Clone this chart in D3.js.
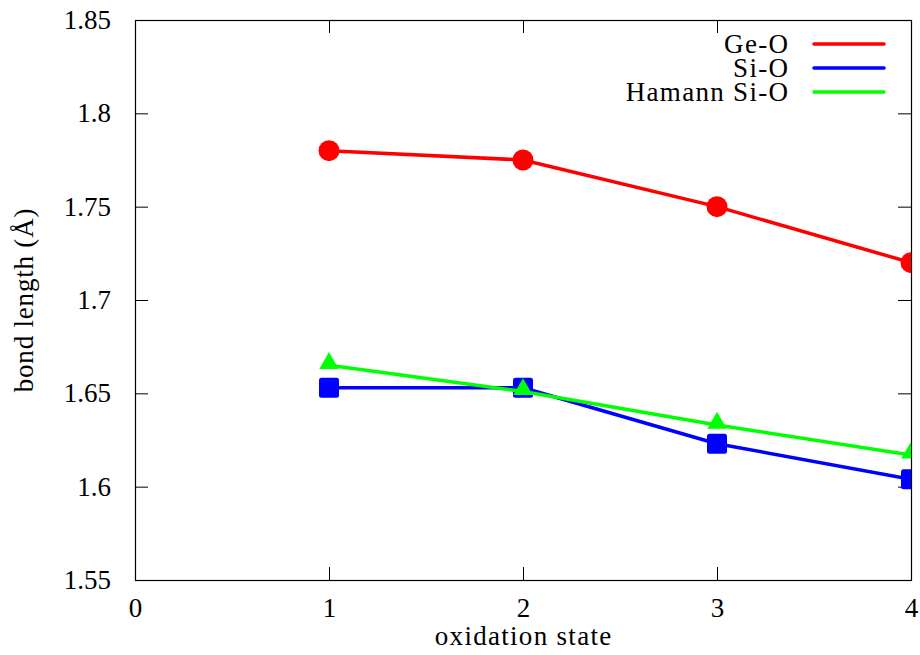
<!DOCTYPE html>
<html>
<head>
<meta charset="utf-8">
<script src="https://cdn.jsdelivr.net/npm/d3@7"></script>
<style>
  html, body { margin: 0; padding: 0; background: #fff; }
  text { font-family: "Liberation Serif", "DejaVu Serif", serif; fill: #000; }
</style>
</head>
<body>
<svg id="chart" width="920" height="655"></svg>
<script>
// Oxidation states and bond lengths (Å)
const oxidationStates = [1, 2, 3, 4];
const geO = [1.78, 1.775, 1.75, 1.72];
const siO = [1.653, 1.653, 1.623, 1.604];
const hamannSiO = [1.665, 1.651, 1.633, 1.617];
const xTicks = [0, 1, 2, 3, 4];
const yTicks = [1.55, 1.6, 1.65, 1.7, 1.75, 1.8, 1.85];

const seriesList = [
  { name: "Ge-O", values: geO, color: "#ff0000", marker: "circle" },
  { name: "Si-O", values: siO, color: "#0000ff", marker: "square" },
  { name: "Hamann Si-O", values: hamannSiO, color: "#00ff00", marker: "triangle" }
];

const margin = { left: 135, right: 9, top: 20, bottom: 75 };
const W = 920, H = 655;
const svg = d3.select("#chart");

const x = d3.scaleLinear().domain([0, 4]).range([margin.left, W - margin.right]);
const y = d3.scaleLinear().domain([1.55, 1.85]).range([H - margin.bottom, margin.top]);

const tickLen = 13;
const fontSize = 27;
const wordSpacing = 1.3;

// Clip markers to the plot frame
svg.append("defs").append("clipPath").attr("id", "plotClip")
  .append("rect")
  .attr("x", x(0)).attr("y", y(1.85))
  .attr("width", x(4) - x(0)).attr("height", y(1.55) - y(1.85));

// Axes with inward ticks, mirrored on top and right
const axisBottom = d3.axisBottom(x).tickValues(xTicks).tickFormat(d3.format("d"))
  .tickSizeInner(-tickLen).tickSizeOuter(0).tickPadding(18);
const axisLeft = d3.axisLeft(y).tickValues(yTicks).tickFormat(d => String(+d.toFixed(2)))
  .tickSizeInner(-tickLen).tickSizeOuter(0).tickPadding(24);
const axisTop = d3.axisTop(x).tickValues(xTicks).tickFormat("").tickSizeInner(-tickLen).tickSizeOuter(0);
const axisRight = d3.axisRight(y).tickValues(yTicks).tickFormat("").tickSizeInner(-tickLen).tickSizeOuter(0);

function styleAxis(g) {
  g.select(".domain").remove();
  g.selectAll(".tick line").attr("stroke", "#000").attr("stroke-width", 1);
  g.selectAll(".tick text").attr("font-size", fontSize)
    .attr("font-family", "Liberation Serif, DejaVu Serif, serif").attr("fill", "#000");
}

svg.append("g").attr("transform", `translate(0,${y(1.55)})`).call(axisBottom).call(styleAxis);
svg.append("g").attr("transform", `translate(${x(0)},0)`).call(axisLeft).call(styleAxis);
svg.append("g").attr("transform", `translate(0,${y(1.85)})`).call(axisTop).call(styleAxis);
svg.append("g").attr("transform", `translate(${x(4)},0)`).call(axisRight).call(styleAxis);

// Plot frame
svg.append("rect")
  .attr("x", x(0) + 0.5).attr("y", y(1.85) + 0.5)
  .attr("width", x(4) - x(0)).attr("height", y(1.55) - y(1.85))
  .attr("fill", "none").attr("stroke", "#000").attr("stroke-width", 1.2);

// Axis titles
svg.append("text")
  .attr("x", (x(0) + x(4)) / 2 + wordSpacing / 2).attr("y", 645)
  .attr("text-anchor", "middle").attr("font-size", fontSize)
  .attr("letter-spacing", wordSpacing)
  .text("oxidation state");
svg.append("text")
  .attr("transform", `translate(33,${(y(1.55) + y(1.85)) / 2}) rotate(-90)`)
  .attr("text-anchor", "middle").attr("font-size", fontSize)
  .attr("letter-spacing", 0.8)
  .text("bond length (Å)");

// Series lines and markers
const line = d3.line().x((d, i) => x(oxidationStates[i])).y(d => y(d));
const plot = svg.append("g").attr("clip-path", "url(#plotClip)");

const symbolFor = {
  circle: d3.symbol().type(d3.symbolCircle).size(Math.PI * 10.5 * 10.5),
  triangle: d3.symbol().type(d3.symbolTriangle).size(165)
};

seriesList.forEach(s => {
  plot.append("path")
    .datum(s.values)
    .attr("d", line)
    .attr("fill", "none")
    .attr("stroke", s.color)
    .attr("stroke-width", 3.5)
    .attr("stroke-linejoin", "round");

  const pts = plot.append("g").selectAll("g")
    .data(s.values)
    .join("g")
    .attr("transform", (d, i) => `translate(${x(oxidationStates[i])},${y(d)})`);

  if (s.marker === "square") {
    pts.append("rect")
      .attr("x", -10).attr("y", -10).attr("width", 20).attr("height", 20)
      .attr("rx", 2.5).attr("fill", s.color);
  } else if (s.marker === "circle") {
    pts.append("path").attr("d", symbolFor.circle()).attr("fill", s.color);
  } else {
    pts.append("path").attr("d", symbolFor.triangle()).attr("fill", s.color)
      .attr("transform", "translate(0,-2)");
  }
});

// Legend
const legend = svg.append("g");
const legendTop = 44, legendStep = 24;
seriesList.forEach((s, i) => {
  const ly = legendTop + i * legendStep;
  legend.append("text")
    .attr("x", 788 + wordSpacing).attr("y", ly).attr("dy", "0.33em")
    .attr("text-anchor", "end").attr("font-size", fontSize)
    .attr("letter-spacing", wordSpacing)
    .text(s.name);
  legend.append("line")
    .attr("x1", 814).attr("x2", 884).attr("y1", ly).attr("y2", ly)
    .attr("stroke", s.color).attr("stroke-width", 3.5).attr("stroke-linecap", "round");
});
</script>
</body>
</html>
